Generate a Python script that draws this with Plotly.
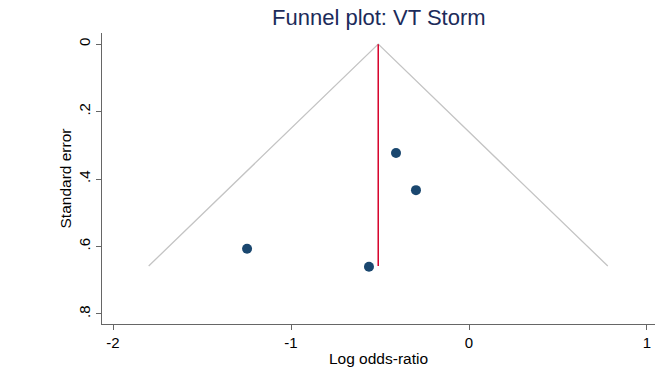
import plotly.graph_objects as go

# Study estimates
log_or = [-1.247, -0.562, -0.41, -0.298]
std_err = [0.607, 0.660, 0.323, 0.433]

# Pooled estimate and funnel limits
pooled = -0.51
se_max = 0.658
z = 1.96

x_ticks = [-2, -1, 0, 1]
x_labels = ["-2", "-1", "0", "1"]
y_ticks = [0, 0.2, 0.4, 0.6, 0.8]
y_labels = ["0", ".2", ".4", ".6", ".8"]

funnel_x = [pooled - z * se_max, pooled, pooled + z * se_max]
funnel_y = [se_max, 0, se_max]

fig = go.Figure()
fig.add_trace(go.Scatter(x=funnel_x, y=funnel_y, mode="lines",
                         line=dict(color="#c4c4c4", width=1.3), hoverinfo="skip"))
fig.add_trace(go.Scatter(x=[pooled, pooled], y=[0, se_max], mode="lines",
                         line=dict(color="#d7002a", width=1.5), hoverinfo="skip"))
fig.add_trace(go.Scatter(x=log_or, y=std_err, mode="markers",
                         marker=dict(color="#1a476f", size=10)))

font = "Liberation Sans, Arial, Helvetica, sans-serif"
fig.update_layout(
    width=672, height=368,
    margin=dict(l=102, r=17, t=33, b=44),
    paper_bgcolor="white", plot_bgcolor="white",
    showlegend=False,
    font=dict(family=font, size=15, color="black"),
    title=dict(text="Funnel plot: VT Storm", x=0.5637, xanchor="center",
               y=0.952, yanchor="middle",
               font=dict(family=font, size=22, color="#1c2b5a")),
    xaxis=dict(range=[-2.062, 1.045], tickvals=x_ticks, ticktext=x_labels,
               showgrid=False, zeroline=False, showline=True, linecolor="#666",
               linewidth=1.3, ticks="outside", ticklen=5, tickcolor="#666",
               automargin=False,
               title=dict(text="Log odds-ratio", standoff=2, font=dict(size=15.5)),
               tickfont=dict(size=15)),
    yaxis=dict(range=[0.83, -0.033], tickvals=y_ticks, ticktext=y_labels,
               showgrid=False, zeroline=False, showline=True, linecolor="#666",
               linewidth=1.3, ticks="outside", ticklen=5, tickcolor="#666",
               tickangle=-90, automargin=False,
               title=dict(text="Standard error", standoff=0, font=dict(size=15.5)),
               tickfont=dict(size=15)),
)

fig.write_html("out.html")
